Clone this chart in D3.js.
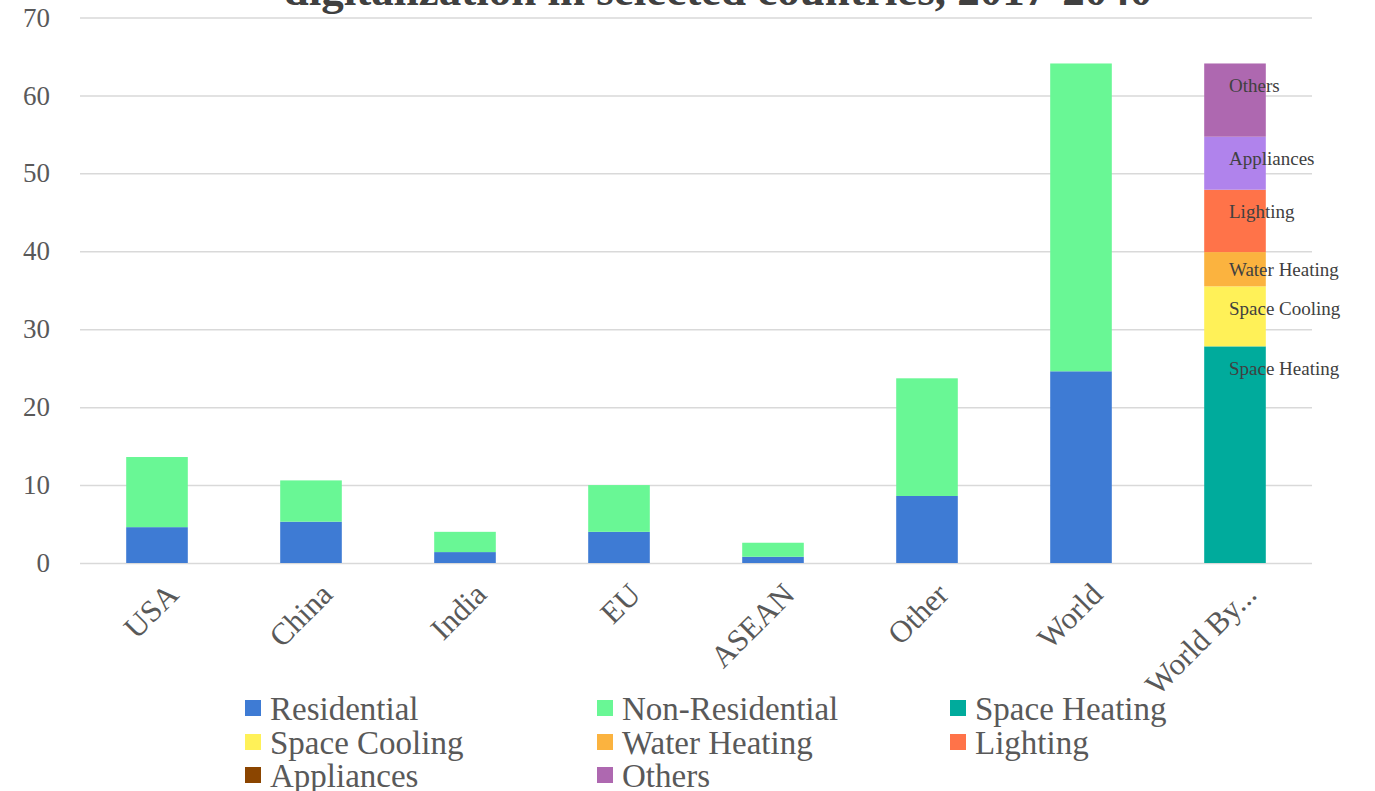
<!DOCTYPE html>
<html><head><meta charset="utf-8">
<script src="https://cdn.jsdelivr.net/npm/d3@7"></script>
<style>body{margin:0;background:#fff;}svg{display:block;font-family:"Liberation Serif","DejaVu Serif",serif;}</style>
</head><body><svg id="c" width="1375" height="791"></svg>
<script>
const categories = ["USA","China","India","EU","ASEAN","Other","World","World By..."];
const residential    = [4.6, 5.3, 1.4, 4.0, 0.8, 8.6, 24.6, 0];
const nonResidential = [9.0, 5.3, 2.6, 6.0, 1.8, 15.1, 39.5, 0];
const spaceHeating   = [0,0,0,0,0,0,0, 27.8];
const spaceCooling   = [0,0,0,0,0,0,0, 7.7];
const waterHeating   = [0,0,0,0,0,0,0, 4.4];
const lighting       = [0,0,0,0,0,0,0, 8.0];
const appliances     = [0,0,0,0,0,0,0, 6.8];
const others         = [0,0,0,0,0,0,0, 9.4];
const seriesNames = ["Residential","Non-Residential","Space Heating","Space Cooling","Water Heating","Lighting","Appliances","Others"];
const barColors    = ["#3e7bd4","#69f795","#00ab9c","#fff158","#fbb33f","#ff7349","#b083ec","#ae68b0"];
const legendColors = ["#3e7bd4","#69f795","#00ab9c","#fff158","#fbb33f","#ff7349","#8b4500","#ae68b0"];
const yTicks = [0,10,20,30,40,50,60,70];
const titleText = "digitalization in selected countries, 2017-2040";

const seriesVals = [residential,nonResidential,spaceHeating,spaceCooling,waterHeating,lighting,appliances,others];
const rows = categories.map((c,i)=>{const r={cat:c};seriesNames.forEach((s,j)=>r[s]=seriesVals[j][i]);return r;});
const stack = d3.stack().keys(seriesNames)(rows);

const svg = d3.select("#c");
const m = {l:80, r:63, t:17.5, b:228};
const W = 1375, H = 791;
const x = d3.scaleBand().domain(categories).range([m.l, W-m.r]).paddingInner(0.6).paddingOuter(0.3);
const y = d3.scaleLinear().domain([0,70]).range([H-m.b, m.t]);

// title (clipped at top, as in the source image)
svg.append("text").attr("x",718).attr("y",5).attr("text-anchor","middle")
  .attr("font-weight","bold").attr("font-size",45).attr("fill","#404040").text(titleText);

// grid
const gy = svg.append("g").attr("transform",`translate(${m.l},0)`)
  .call(d3.axisLeft(y).tickValues(yTicks).tickSize(-(W-m.l-m.r)).tickPadding(30));
gy.select(".domain").remove();
gy.selectAll(".tick line").attr("stroke","#d9d9d9").attr("stroke-width",1.5);
gy.selectAll(".tick text").attr("font-size",27).attr("fill","#595959").attr("font-family","'Liberation Serif',serif").attr("text-anchor","end");

// bars
svg.append("g").selectAll("g").data(stack).join("g").attr("fill",(d,i)=>barColors[i])
  .selectAll("rect").data(d=>d.filter(p=>p[1]-p[0]>0)).join("rect")
  .attr("x",d=>x(d.data.cat)).attr("width",x.bandwidth())
  .attr("y",d=>y(d[1])).attr("height",d=>y(d[0])-y(d[1]));

// in-bar labels on the last bar
const last = categories[categories.length-1];
const lab = svg.append("g");
stack.forEach((s,i)=>{
  const p = s.find(d=>d.data.cat===last);
  if(!p || p[1]-p[0]<=0) return;
  const top = y(p[1]), mid = (y(p[0])+y(p[1]))/2;
  lab.append("text").attr("x",x(last)+x.bandwidth()/2-6).attr("y",Math.min(mid,top+22)).attr("dy","0.35em")
    .attr("font-size",19).attr("fill","#404040").text(seriesNames[i]);
});

// x axis labels
const gx = svg.append("g").attr("transform",`translate(0,${H-m.b})`).call(d3.axisBottom(x).tickSize(0).tickPadding(0));
gx.select(".domain").remove();
gx.selectAll(".tick text").attr("font-size",31).attr("fill","#595959").attr("font-family","'Liberation Serif',serif")
  .attr("text-anchor","end").attr("transform","translate(8,18) rotate(-45)").attr("dy","0.7em");

// legend
const lg = svg.append("g");
const colX = [245, 597, 950], rowY = [708, 742, 775];
seriesNames.forEach((n,i)=>{
  const g = lg.append("g").attr("transform",`translate(${colX[i%3]},${rowY[Math.floor(i/3)]})`);
  g.append("rect").attr("x",0).attr("y",-8).attr("width",16).attr("height",16).attr("fill",legendColors[i]);
  g.append("text").attr("x",25).attr("y",0).attr("dy","0.35em").attr("font-size",33).attr("fill","#595959").text(n);
});
</script></body></html>
